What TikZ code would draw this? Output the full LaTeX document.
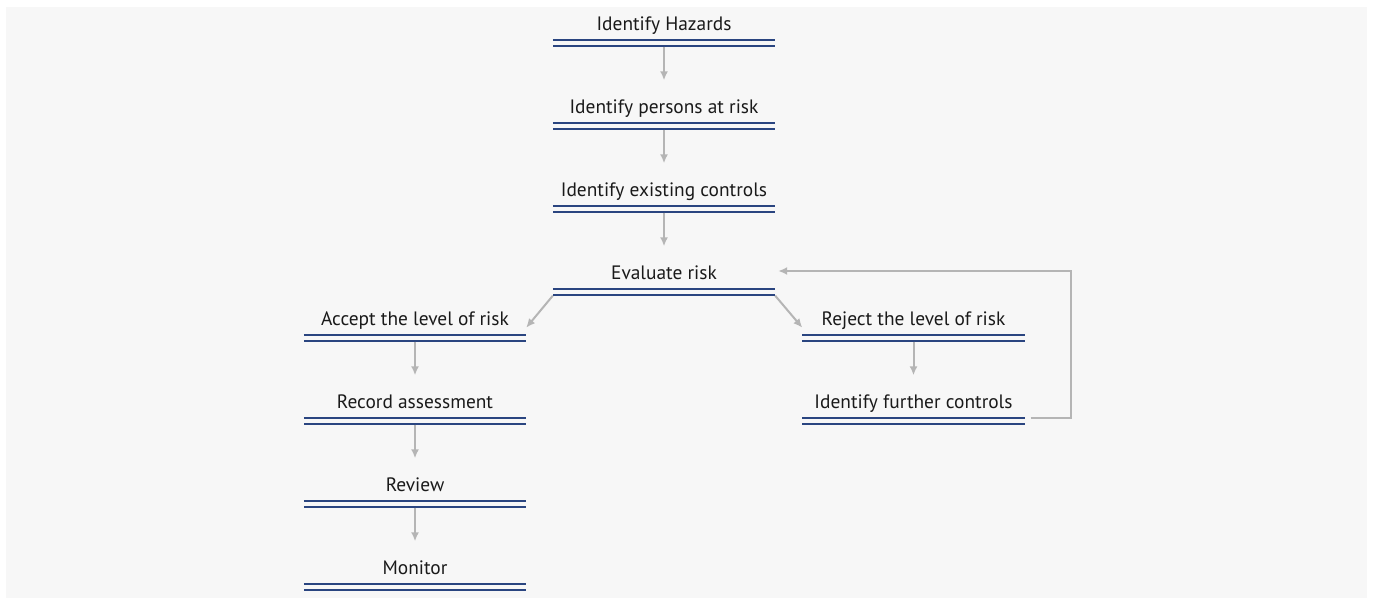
\documentclass[tikz,border=0pt]{standalone}
\usepackage{fontspec}
\setmainfont{PT Sans}
\usepackage{xcolor}
\usepackage{tikz}
\usetikzlibrary{calc}
\usetikzlibrary{arrows.meta}
\definecolor{paper}{HTML}{F7F7F7}
\definecolor{rulecol}{HTML}{2A4580}
\definecolor{flowcol}{HTML}{B5B5B5}
\definecolor{inkcol}{HTML}{1A1A1A}

\begin{document}
\begin{tikzpicture}[x=1pt,y=-1pt,>={Latex[length=9pt,width=8pt]},
		stage/.style={anchor=base,inner sep=0pt,minimum width=222pt,text height=33pt,text depth=16pt,font=\fontsize{19.4}{22}\selectfont,text=inkcol},
		rule/.style={draw=rulecol,line width=2pt,double=paper,double distance=4pt},
		flow/.style={->,draw=flowcol,line width=2pt}]
			%canvas
			\useasboundingbox (0,0) rectangle (1373,599);
			\fill [paper] (6,7) rectangle (1367,598);

			%main column
			\node [stage] at (664,30.5) (hazards) {Identify Hazards};
			\node [stage] at ($(hazards.base) + (0,83)$) (persons) {Identify persons at risk};
			\node [stage] at ($(persons.base) + (0,83)$) (existing) {Identify existing controls};
			\node [stage] at ($(existing.base) + (0,83)$) (evaluate) {Evaluate risk};

			%accept branch
			\node [stage] at ($(evaluate.base) + (-249,46)$) (accept) {Accept the level of risk};
			\node [stage] at ($(accept.base) + (0,83)$) (record) {Record assessment};
			\node [stage] at ($(record.base) + (0,83)$) (review) {Review};
			\node [stage] at ($(review.base) + (0,83)$) (monitor) {Monitor};

			%reject branch
			\node [stage] at ($(evaluate.base) + (249.5,46)$) (reject) {Reject the level of risk};
			\node [stage] at ($(reject.base) + (0,83)$) (further) {Identify further controls};

			%double rules
			\draw [rule] ([yshift=4pt]hazards.south west) -- ([yshift=4pt]hazards.south east);
			\draw [rule] ([yshift=4pt]persons.south west) -- ([yshift=4pt]persons.south east);
			\draw [rule] ([yshift=4pt]existing.south west) -- ([yshift=4pt]existing.south east);
			\draw [rule] ([yshift=4pt]evaluate.south west) -- ([yshift=4pt]evaluate.south east);
			\draw [rule] ([yshift=4pt]accept.south west) -- ([yshift=4pt]accept.south east);
			\draw [rule] ([yshift=4pt]record.south west) -- ([yshift=4pt]record.south east);
			\draw [rule] ([yshift=4pt]review.south west) -- ([yshift=4pt]review.south east);
			\draw [rule] ([yshift=4pt]monitor.south west) -- ([yshift=4pt]monitor.south east);
			\draw [rule] ([yshift=4pt]reject.south west) -- ([yshift=4pt]reject.south east);
			\draw [rule] ([yshift=4pt]further.south west) -- ([yshift=4pt]further.south east);

			%arrows
			\draw [flow] (hazards.south) -- (persons.north);
			\draw [flow] (persons.south) -- (existing.north);
			\draw [flow] (existing.south) -- (evaluate.north);
			\draw [flow] (evaluate.south west) -- ([yshift=14pt]accept.south east);
			\draw [flow] (evaluate.south east) -- ([yshift=14pt]reject.south west);
			\draw [flow] (accept.south) -- (record.north);
			\draw [flow] (record.south) -- (review.north);
			\draw [flow] (review.south) -- (monitor.north);
			\draw [flow] (reject.south) -- (further.north);
			%loop back
			\draw [flow] ([xshift=6pt,yshift=7pt]further.south east) -- ++(40,0) |- ([xshift=3pt]evaluate.east);
		\end{tikzpicture}
\end{document}
